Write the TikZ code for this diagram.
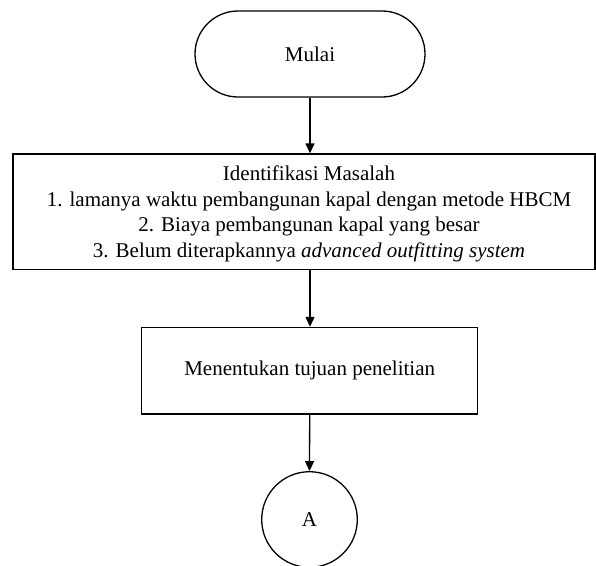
\documentclass[tikz,border=0pt]{standalone}
\usepackage{fontspec}
\setmainfont{Liberation Serif}
\usetikzlibrary{arrows.meta,shapes.misc}

\begin{document}
\begin{tikzpicture}[x=1pt,y=-1pt,
  every node/.style={font=\fontsize{21}{25.5}\selectfont, inner sep=0pt},
  shapeline/.style={draw=black, line width=1.3pt, fill=white},
  terminal/.style={shapeline, rounded rectangle, minimum width=230pt, minimum height=86pt},
  procbox/.style={shapeline, rectangle},
  connector/.style={shapeline, circle, minimum size=95.6pt},
  flow/.style={draw=black, line width=1.3pt, -{Triangle[length=10pt,width=9pt]}}
]
\useasboundingbox (0,0) rectangle (596,565);

% start terminal
\node[terminal] (start) at (310,54) {Mulai};

% problem identification box
\node[procbox, minimum width=582pt, minimum height=115.5pt] (ident) at (304,211.75) {};
\node[align=center] (identtext) at (309,213.7) {Identifikasi Masalah\\
1. lamanya waktu pembangunan kapal dengan metode HBCM\\
2. Biaya pembangunan kapal yang besar\\
3. Belum diterapkannya \textit{advanced outfitting system}};

% research goal box
\node[procbox, minimum width=336pt, minimum height=86.5pt] (goal) at (309.7,370.7) {Menentukan tujuan penelitian};

% off-page connector
\node[connector] (conA) at (309.5,519.5) {A};

% flow lines
\draw[flow] (start.south) -- (start.south |- ident.north);
\draw[flow] (start.south |- ident.south) -- (start.south |- goal.north);
\draw[flow] (goal.south) -- (conA.north);
\end{tikzpicture}
\end{document}
